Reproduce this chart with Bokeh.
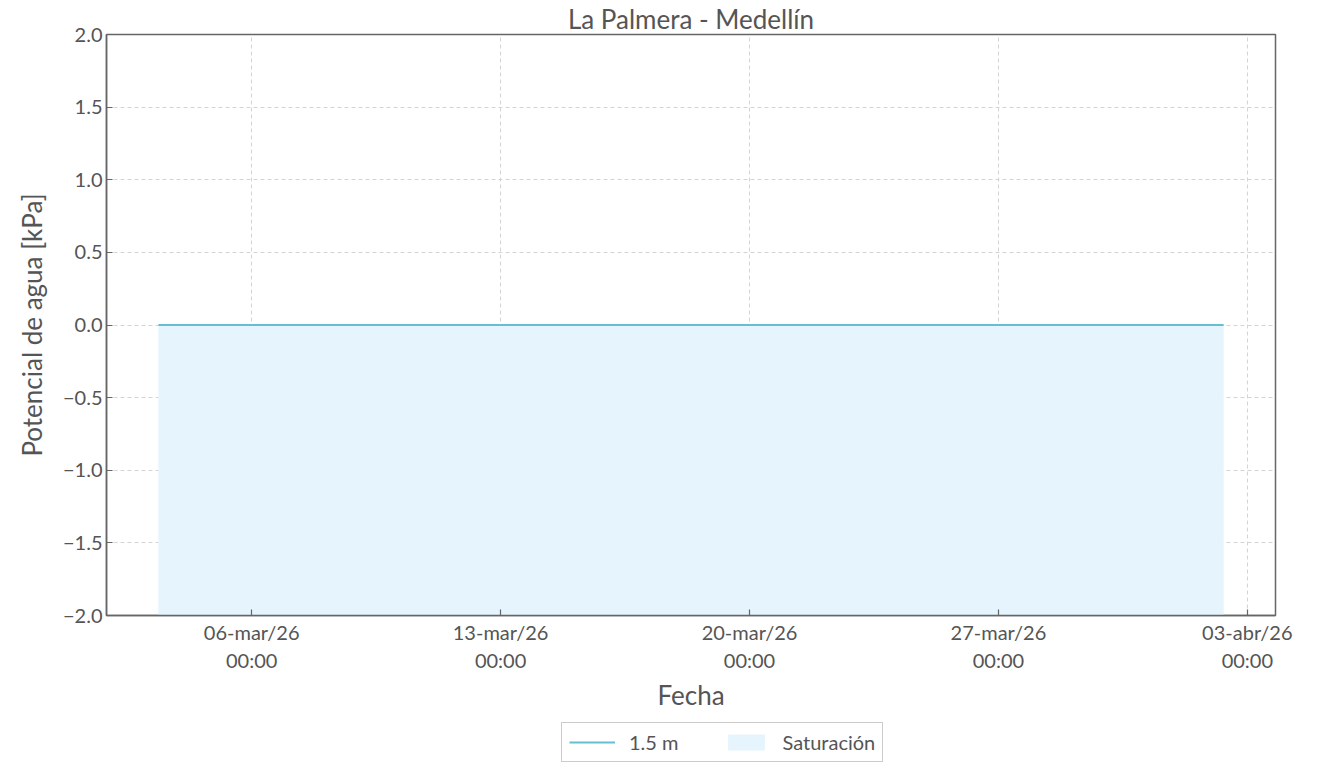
from datetime import datetime
from bokeh.plotting import figure
from bokeh.layouts import column
from bokeh.models import (Range1d, FixedTicker, CustomJSTickFormatter, Legend, LegendItem,
                          ColumnDataSource)
from bokeh.embed import file_html
from bokeh.resources import INLINE

# ---- data ----
dates = [datetime(2026, 3, 3, 9, 0), datetime(2026, 3, 10, 0, 0), datetime(2026, 3, 17, 0, 0),
         datetime(2026, 3, 24, 0, 0), datetime(2026, 3, 31, 0, 0), datetime(2026, 4, 2, 8, 0)]
potential_15m = [0.0, 0.0, 0.0, 0.0, 0.0, 0.0]
sat_upper = [0.0, 0.0, 0.0, 0.0, 0.0, 0.0]
sat_lower = [-2.0, -2.0, -2.0, -2.0, -2.0, -2.0]
tick_dates = [datetime(2026, 3, 6), datetime(2026, 3, 13), datetime(2026, 3, 20),
              datetime(2026, 3, 27), datetime(2026, 4, 3)]
month_names = ["ene", "feb", "mar", "abr", "may", "jun", "jul", "ago", "sep", "oct", "nov", "dic"]
y_ticks = [-2.0, -1.5, -1.0, -0.5, 0.0, 0.5, 1.0, 1.5, 2.0]
series_labels = ["1.5 m", "Saturación"]
x_start = datetime(2026, 3, 1, 22, 0)
x_end = datetime(2026, 4, 3, 19, 0)

FONT = "Lato"
TXT = "#555555"
AX = "#666666"
LINE_C = "#66bfce"
FILL_C = "#e6f4fd"

src = ColumnDataSource(dict(x=dates, y=potential_15m, top=sat_upper, bottom=sat_lower))

p = figure(width=1315, height=714, x_axis_type="datetime", output_backend="svg",
           toolbar_location=None, title="La Palmera - Medellín",
           x_range=Range1d(x_start, x_end), y_range=Range1d(-2.0, 2.0),
           min_border_left=106, min_border_right=40, min_border_top=0, min_border_bottom=0)

p.title.align = "center"
p.title.text_font = FONT
p.title.text_font_size = "26px"
p.title.text_font_style = "normal"
p.title.text_color = TXT
p.title.standoff = 0

sat = p.varea(x="x", y1="bottom", y2="top", source=src, fill_color=FILL_C, fill_alpha=1.0)
ln = p.line(x="x", y="y", source=src, line_color=LINE_C, line_width=2)

p.xaxis.ticker = FixedTicker(ticks=[d.timestamp() * 1000 for d in tick_dates])
p.xaxis.formatter = CustomJSTickFormatter(args=dict(months=month_names), code="""
    const d = new Date(tick);
    const dd = String(d.getUTCDate()).padStart(2, '0');
    const yy = String(d.getUTCFullYear() % 100).padStart(2, '0');
    const hh = String(d.getUTCHours()).padStart(2, '0');
    const mm = String(d.getUTCMinutes()).padStart(2, '0');
    return dd + '-' + months[d.getUTCMonth()] + '/' + yy + '\\n' + hh + ':' + mm;
""")
p.yaxis.ticker = FixedTicker(ticks=y_ticks)
p.yaxis.formatter = CustomJSTickFormatter(code="return tick.toFixed(1).replace('-', '\\u2212');")

for ax in (p.xaxis[0], p.yaxis[0]):
    ax.major_tick_in = 6
    ax.major_tick_out = 0
    ax.minor_tick_in = 0
    ax.minor_tick_out = 0
    ax.axis_line_color = AX
    ax.axis_line_width = 1.5
    ax.major_tick_line_color = AX
    ax.major_tick_line_width = 1.2
    ax.major_label_text_font = FONT
    ax.major_label_text_font_size = "20px"
    ax.major_label_text_color = TXT
    ax.axis_label_text_font = FONT
    ax.axis_label_text_font_size = "26px"
    ax.axis_label_text_font_style = "normal"
    ax.axis_label_text_color = TXT

p.xaxis.axis_label = "Fecha"
p.yaxis.axis_label = "Potencial de agua [kPa]"
p.xaxis.major_label_standoff = 4
p.yaxis.major_label_standoff = 4
p.xaxis.axis_label_standoff = 4
p.yaxis.axis_label_standoff = 12

p.outline_line_color = AX
p.outline_line_width = 1.5
p.grid.grid_line_color = "#d4d4d4"
p.grid.grid_line_dash = "4 3"
p.grid.grid_line_width = 1

# legend strip below the chart: same series and styles, drawn outside this strip's view
q = figure(width=1315, height=52, output_backend="svg", toolbar_location=None,
           x_axis_type=None, y_axis_type=None, x_range=Range1d(0, 1), y_range=Range1d(0, 1),
           min_border=0, outline_line_color=None)
q.grid.visible = False
q_sat = q.varea(x="x", y1="bottom", y2="top", source=src, fill_color=FILL_C, fill_alpha=1.0)
q_ln = q.line(x="x", y="y", source=src, line_color=LINE_C, line_width=2)

legend = Legend(items=[LegendItem(label=series_labels[0], renderers=[q_ln]),
                       LegendItem(label=series_labels[1], renderers=[q_sat])],
                orientation="horizontal", location=(455, 4),
                label_text_font=FONT, label_text_font_size="20px", label_text_color=TXT,
                glyph_width=46, glyph_height=20, spacing=44, padding=7, label_standoff=14,
                border_line_color="#9a9a9a", border_line_width=1.2,
                margin=0)
q.add_layout(legend, "center")

layout = column(p, q, spacing=0)
open("out.html", "w").write(file_html(layout, INLINE))
